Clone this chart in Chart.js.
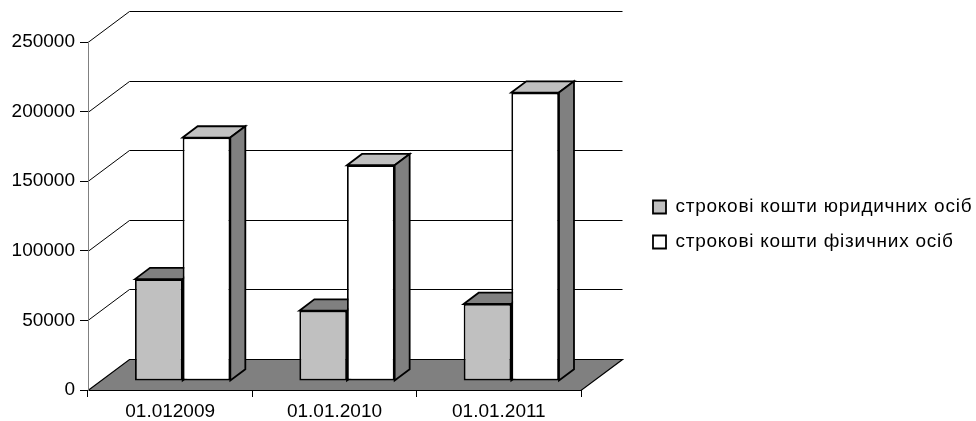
<!DOCTYPE html>
<html>
<head>
<meta charset="utf-8">
<script src="https://cdn.jsdelivr.net/npm/chart.js@4.4.1/dist/chart.umd.min.js"></script>
<style>
  html, body { margin: 0; padding: 0; background: #ffffff; }
  canvas { display: block; }
</style>
</head>
<body>
<canvas id="deposits" width="976" height="421"></canvas>
<script>
// Term deposits by date
const categories = ['01.012009', '01.01.2010', '01.01.2011'];
const seriesNames = ['строкові кошти юридичних осіб', 'строкові кошти фізичних осіб'];
const legalEntities = [73200, 50500, 55300];
const individuals = [174900, 155000, 207200];
const yTicks = [0, 50000, 100000, 150000, 200000, 250000];

// 3D look: depth of the side wall / floor, and where the bars sit inside it
const WALL_DX = 41.5, WALL_DY = -31;
const BAR_SHIFT_X = 12.5, BAR_SHIFT_Y = -9;
const BAR_DEPTH_X = 15, BAR_DEPTH_Y = -11.3;
const FACE_COLORS = [
  { top: '#808080', side: '#606060' },
  { top: '#C0C0C0', side: '#808080' }
];
const FONT = { family: '"Liberation Sans", Arial, sans-serif', size: 19 };
const LEGEND_WIDTH = 395, LEGEND_BOX_LEFT = 653, LEGEND_FIRST_TOP = 197.5;

// Side wall and back wall gridlines plus the dark floor
const walls = {
  id: 'walls',
  beforeDraw(chart) {
    const { ctx, chartArea: a, scales: { y } } = chart;
    ctx.save();
    ctx.strokeStyle = '#000';
    ctx.lineWidth = 1;
    ctx.beginPath();
    yTicks.forEach(v => {
      if (v === 0) return;
      const py = Math.round(y.getPixelForValue(v)) + 0.5;
      ctx.moveTo(a.left, py);
      ctx.lineTo(a.left + WALL_DX, py + WALL_DY);
      ctx.lineTo(a.right + WALL_DX, py + WALL_DY);
    });
    ctx.stroke();
    const fy = Math.round(y.getPixelForValue(0)) + 0.5;
    ctx.beginPath();
    ctx.moveTo(a.left, fy);
    ctx.lineTo(a.left + WALL_DX, fy + WALL_DY);
    ctx.lineTo(a.right + WALL_DX, fy + WALL_DY);
    ctx.lineTo(a.right, fy);
    ctx.closePath();
    ctx.fillStyle = '#808080';
    ctx.fill();
    ctx.lineWidth = 1.2;
    ctx.stroke();
    ctx.restore();
  }
};

// Top and side faces of each bar; the front faces are the regular bars,
// all pushed back into the floor by the same shift
const bars3d = {
  id: 'bars3d',
  beforeDatasetsDraw(chart) {
    const ctx = chart.ctx;
    ctx.save();
    ctx.translate(BAR_SHIFT_X, BAR_SHIFT_Y);
    const face = (pts, fill) => {
      ctx.beginPath();
      pts.forEach(([px, py], k) => (k ? ctx.lineTo(px, py) : ctx.moveTo(px, py)));
      ctx.closePath();
      ctx.fillStyle = fill;
      ctx.fill();
      ctx.stroke();
    };
    ctx.strokeStyle = '#000';
    ctx.lineWidth = 1.8;
    ctx.lineJoin = 'miter';
    chart.data.datasets.forEach((ds, i) => {
      chart.getDatasetMeta(i).data.forEach(bar => {
        const { x, y, base, width } = bar.getProps(['x', 'y', 'base', 'width'], true);
        const l = x - width / 2, r = x + width / 2;
        face([[l, y], [l + BAR_DEPTH_X, y + BAR_DEPTH_Y], [r + BAR_DEPTH_X, y + BAR_DEPTH_Y], [r, y]], FACE_COLORS[i].top);
        face([[r, y], [r + BAR_DEPTH_X, y + BAR_DEPTH_Y], [r + BAR_DEPTH_X, base + BAR_DEPTH_Y], [r, base]], FACE_COLORS[i].side);
      });
    });
  },
  afterDatasetsDraw(chart) {
    chart.ctx.restore();
  }
};

// Legend sits to the right of the floor, with slightly spaced lettering
const legendSpot = {
  id: 'legendSpot',
  afterInit(chart) {
    const lg = chart.legend;
    const fit = lg.fit;
    lg.fit = function () { fit.call(this); this.width = LEGEND_WIDTH; };
    const draw = lg.draw;
    lg.draw = function () {
      this.ctx.save();
      this.ctx.letterSpacing = '0.75px';
      draw.call(this);
      this.ctx.restore();
    };
  },
  afterLayout(chart) {
    const lg = chart.legend;
    const pad = lg.options.labels.padding;
    const w = lg.width;
    lg.left = LEGEND_BOX_LEFT - pad;
    lg.right = lg.left + w;
    const colH = lg.columnSizes[0].height;
    const span = 400;
    lg.top = LEGEND_FIRST_TOP - (pad + span - colH) / 2;
    lg.bottom = lg.top + span;
  }
};

new Chart(document.getElementById('deposits'), {
  type: 'bar',
  data: {
    labels: categories,
    datasets: [
      {
        label: seriesNames[0],
        data: legalEntities,
        backgroundColor: '#C0C0C0',
        borderColor: '#000',
        borderWidth: 1.8,
        borderSkipped: false
      },
      {
        label: seriesNames[1],
        data: individuals,
        backgroundColor: '#FFFFFF',
        borderColor: '#000',
        borderWidth: 1.8,
        borderSkipped: false
      }
    ]
  },
  options: {
    responsive: false,
    animation: false,
    devicePixelRatio: 1,
    events: [],
    layout: { padding: { left: 11, top: 42, right: 0, bottom: 0 } },
    datasets: { bar: { barPercentage: 1, categoryPercentage: 0.58 } },
    scales: {
      x: {
        grid: { offset: true, drawOnChartArea: false, tickLength: 7, color: '#000', lineWidth: 1 },
        border: { color: '#000', width: 1 },
        ticks: { color: '#000', font: FONT, padding: 3, maxRotation: 0 },
        afterFit(s) { s.height = 31; }
      },
      y: {
        min: 0,
        max: 250000,
        afterBuildTicks(s) { s.ticks = yTicks.map(v => ({ value: v })); },
        grid: { drawOnChartArea: false, tickLength: 8, color: '#000', lineWidth: 1 },
        border: { color: '#808080', width: 1 },
        ticks: { color: '#000', font: FONT, padding: 5, callback: v => String(v) },
        afterFit(s) { s.width = 77; }
      }
    },
    plugins: {
      tooltip: { enabled: false },
      legend: {
        position: 'right',
        labels: {
          color: '#000',
          font: FONT,
          boxWidth: 13,
          boxHeight: 13,
          padding: 16
        }
      }
    }
  },
  plugins: [walls, bars3d, legendSpot]
});
</script>
</body>
</html>
